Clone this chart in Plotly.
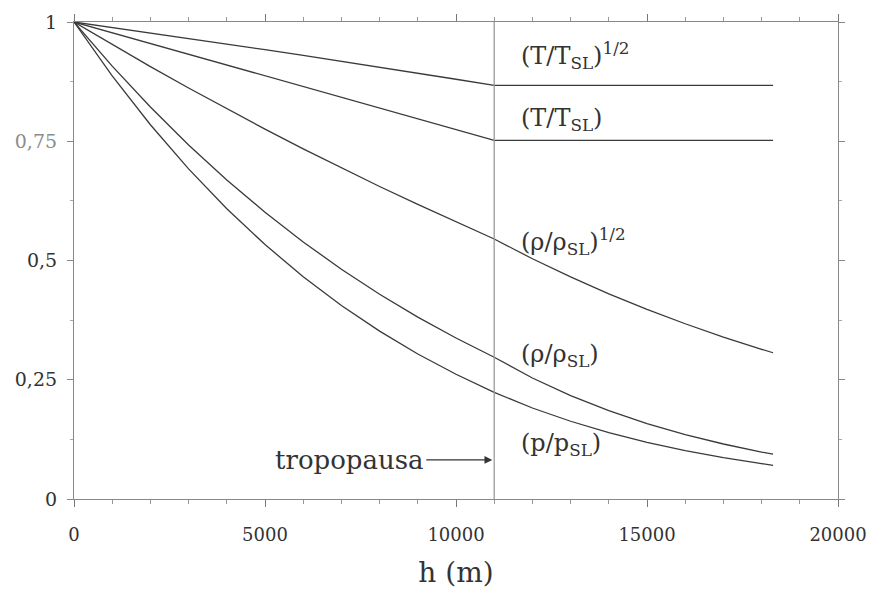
import plotly.graph_objects as go

# Altitude (m)
h = [0, 1000, 2000, 3000, 4000, 5000, 6000, 7000, 8000, 9000, 10000, 11000,
     12000, 13000, 14000, 15000, 16000, 17000, 18000, 18300]

T_ratio = [1.0, 0.9774, 0.9549, 0.9323, 0.9098, 0.8872, 0.8647, 0.8421, 0.8195,
           0.7970, 0.7744, 0.7519, 0.7519, 0.7519, 0.7519, 0.7519, 0.7519,
           0.7519, 0.7519, 0.7519]
T_sqrt = [1.0, 0.9886, 0.9772, 0.9656, 0.9538, 0.9419, 0.9299, 0.9177, 0.9053,
          0.8928, 0.8800, 0.8671, 0.8671, 0.8671, 0.8671, 0.8671, 0.8671,
          0.8671, 0.8671, 0.8671]
p_ratio = [1.0, 0.8870, 0.7846, 0.6920, 0.6085, 0.5334, 0.4660, 0.4057, 0.3519,
           0.3040, 0.2615, 0.2234, 0.1908, 0.1630, 0.1392, 0.1189, 0.1015,
           0.0867, 0.0741, 0.0707]
rho_ratio = [1.0, 0.9075, 0.8217, 0.7423, 0.6689, 0.6012, 0.5389, 0.4817, 0.4292,
             0.3813, 0.3376, 0.2971, 0.2537, 0.2167, 0.1851, 0.1581, 0.1350,
             0.1153, 0.0985, 0.0940]
rho_sqrt = [1.0, 0.9526, 0.9065, 0.8616, 0.8179, 0.7754, 0.7341, 0.6941, 0.6551,
            0.6175, 0.5810, 0.5451, 0.5037, 0.4655, 0.4302, 0.3976, 0.3674,
            0.3396, 0.3138, 0.3066]

series = [T_sqrt, T_ratio, rho_sqrt, rho_ratio, p_ratio]
labels = ["(T/T<sub>SL</sub>)<sup>1/2</sup>", "(T/T<sub>SL</sub>)",
          "(ρ/ρ<sub>SL</sub>)<sup>1/2</sup>", "(ρ/ρ<sub>SL</sub>)",
          "(p/p<sub>SL</sub>)"]
label_y = [0.93, 0.795, 0.54, 0.3, 0.115]

x_ticks = [0, 5000, 10000, 15000, 20000]
y_ticks = [0, 0.25, 0.5, 0.75, 1]
y_ticktext = ["0", "0,25", "0,5", "<span style='color:#8c8c8c'>0,75</span>", "1"]
tropopause_h = 11000

FONT = "DejaVu Serif"
LINE = "#3a3a3a"

fig = go.Figure()
for s in series:
    fig.add_trace(go.Scatter(x=h, y=s, mode="lines",
                             line=dict(color=LINE, width=1.3),
                             showlegend=False, hoverinfo="skip"))

# tropopause vertical line
fig.add_shape(type="line", x0=tropopause_h, x1=tropopause_h, y0=0, y1=1,
              xref="x", yref="y", line=dict(color="#9a9a9a", width=1.3))

for lab, yy in zip(labels, label_y):
    fig.add_annotation(x=11650, y=yy, text=lab, showarrow=False,
                       xanchor="left", yanchor="middle",
                       font=dict(family=FONT, size=24, color="#333"))

fig.add_annotation(x=10950, y=0.082, ax=-66, ay=0, text="tropopausa",
                   showarrow=True, arrowhead=2, arrowsize=1.3, arrowwidth=1.2,
                   arrowcolor="#333", xanchor="right", yanchor="middle",
                   axref="pixel", ayref="pixel",
                   font=dict(family=FONT, size=26, color="#333"))

fig.update_xaxes(range=[0, 20000], tickvals=x_ticks,
                 ticktext=[str(v) for v in x_ticks],
                 showgrid=False, zeroline=False, showline=True,
                 linecolor="#888", linewidth=1.2, mirror="ticks",
                 ticks="outside", ticklen=7, tickcolor="#777",
                 minor=dict(dtick=1000, ticks="outside", ticklen=4,
                            tickcolor="#999"),
                 tickfont=dict(family=FONT, size=18, color="#333"),
                 ticklabelstandoff=12,
                 automargin=False,
                 title=dict(text="h (m)", font=dict(family=FONT, size=28,
                                                    color="#333"),
                            standoff=22))
fig.update_yaxes(range=[0, 1], tickvals=y_ticks, ticktext=y_ticktext,
                 showgrid=False, zeroline=False, showline=True,
                 linecolor="#888", linewidth=1.2, mirror="ticks",
                 ticks="outside", ticklen=6, tickcolor="#888",
                 minor=dict(dtick=0.125, ticks="outside", ticklen=3,
                            tickcolor="#aaa"),
                 ticklabelstandoff=6,
                 automargin=False,
                 tickfont=dict(family=FONT, size=19, color="#333"))

fig.update_layout(width=869, height=589, plot_bgcolor="white",
                  paper_bgcolor="white",
                  margin=dict(l=74, r=31, t=22, b=90))

fig.write_html("out.html",
               config={"displayModeBar": False},
               post_script="document.body.style.margin='0';"
                           "document.body.style.overflow='hidden';")
